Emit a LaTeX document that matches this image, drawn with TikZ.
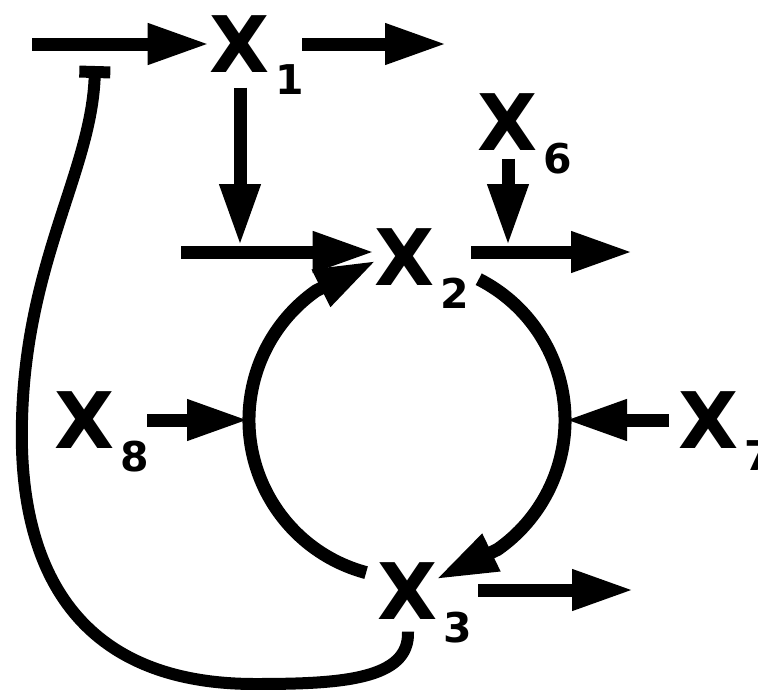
\documentclass[tikz,border=0pt]{standalone}
\usepackage{fontspec}
\newfontfamily\genefont{DejaVu Sans}
\usetikzlibrary{arrows.meta, calc}
\tikzstyle{gene}    = [inner sep=0pt, font={\genefont\bfseries\fontsize{78}{78}\selectfont}]
\tikzstyle{sub}     = [inner sep=0pt, anchor=north west, xshift=5pt, yshift=8pt,
                       font={\genefont\bfseries\fontsize{41}{41}\selectfont}]
\tikzstyle{arrow}   = [line width=13pt, -{Triangle[length=62pt, width=38pt]}]
\tikzstyle{inhibit} = [line width=12pt, -{Bar[width=31pt]}]
\begin{document}
\begin{tikzpicture}[x=1pt, y=-1pt]
  \useasboundingbox (0, 0) rectangle (758, 689);

  % Species
  \node (x1) [gene, label={[sub]south east:1}] at (240, 44)  {X};
  \node (x2) [gene, label={[sub]south east:2}] at (405, 257) {X};
  \node (x3) [gene, label={[sub]south east:3}] at (408, 591) {X};
  \node (x6) [gene, label={[sub]south east:6}] at (508, 122) {X};
  \node (x7) [gene, label={[sub]south east:7}] at (709, 420) {X};
  \node (x8) [gene, label={[sub]south east:8}] at (85, 420)  {X};

  % Free ends
  \coordinate (c)    at (407, 420);
  \coordinate (cw)   at (249, 420);
  \coordinate (ce)   at (565, 420);
  \coordinate (in1)  at (32, 44);
  \coordinate (out1) at (447, 44);
  \coordinate (in2)  at (181, 252);
  \coordinate (out2) at (633, 252);
  \coordinate (out3) at (634, 590);
  \coordinate (j1)   at (240, 246);
  \coordinate (j6)   at (508, 246);
  \coordinate (bar)  at (95, 66);

  % Input -> X1 -> out
  \draw[arrow] (in1) -- (x1);
  \draw[arrow] ([xshift=32pt]x1.east) -- (out1);
  % X1 acts on the input of X2
  \draw[arrow] ([yshift=-15pt]x1.south) -- (j1);
  \draw[arrow] (in2) -- (in2 -| x2.west);
  % X2 -> out, X6 acts on it
  \draw[arrow] ([xshift=36pt, yshift=5pt]x2.east) -- (out2);
  \draw[arrow] ([yshift=-8pt]x6.south) -- (j6);
  % X2 <-> X3 cycle
  \draw[arrow] ([shift={(-63:158)}]c) arc[start angle=-63, end angle=55, radius=158]
    -- ++(-62, 30);
  \draw[arrow] ([shift={(105:158)}]c) arc[start angle=105, end angle=235, radius=158]
    -- ++(60, -30);
  % X8, X7 act on the cycle
  \draw[arrow] ([xshift=32pt]x8.east) -- (cw);
  \draw[arrow] ([xshift=-10pt]x7.west) -- (ce);
  % X3 -> out
  \draw[arrow] ([xshift=40pt, yshift=1pt]x3.east) -- (out3);
  % X3 inhibits the input of X1
  \draw[inhibit] ([yshift=-12pt]x3.south) .. controls (410, 680) and (340, 684) .. (255, 684)
    .. controls (70, 684) and (18, 560) .. (22, 420)
    .. controls (26, 260) and (92, 170) .. (bar);

\end{tikzpicture}
\end{document}
